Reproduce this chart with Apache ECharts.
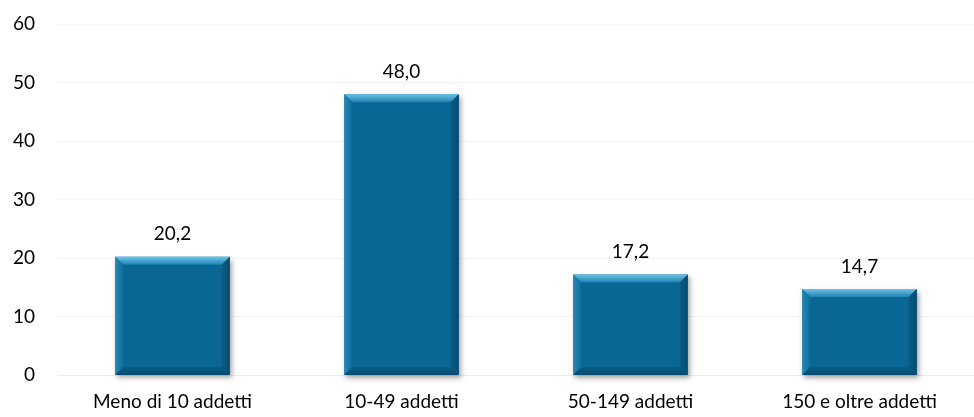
<!DOCTYPE html>
<html>
<head>
<meta charset="utf-8">
<script src="https://cdn.jsdelivr.net/npm/echarts@6/dist/echarts.min.js"></script>
<style>
  html, body { margin: 0; padding: 0; background: #ffffff; }
  #chart { width: 974px; height: 417px; }
</style>
</head>
<body>
<div id="chart"></div>
<script>
// Imprese per classe di addetti (valori percentuali)
const categories = ['Meno di 10 addetti', '10-49 addetti', '50-149 addetti', '150 e oltre addetti'];
const values = [20.2, 48.0, 17.2, 14.7];
const yTicks = [0, 10, 20, 30, 40, 50, 60];

const FONT = 'Lato, "Open Sans", sans-serif';
const FONT_SIZE = 19;
const BEVEL = 8;

function fmt(v) {
  return v.toFixed(1).replace('.', ',');
}

// Bevelled bar: flat face plus four sloped edges
function renderBevelBar(params, api) {
  const idx = api.value(0);
  const val = api.value(1);
  const top = api.coord([idx, val]);
  const base = api.coord([idx, 0]);
  const w = api.size([1, 0])[0] * 0.5;
  const x0 = top[0] - w / 2, x1 = top[0] + w / 2;
  const y0 = top[1], y1 = base[1];
  const b = Math.min(BEVEL, (y1 - y0) / 2);

  const face = '#0a6694';
  return {
    type: 'group',
    children: [
      {
        type: 'rect',
        shape: { x: x0, y: y0, width: x1 - x0, height: y1 - y0 },
        style: { fill: face, shadowBlur: 5, shadowOffsetX: 2, shadowOffsetY: 3, shadowColor: 'rgba(0,0,0,0.35)' }
      },
      {
        type: 'polygon',
        shape: { points: [[x0, y0], [x1, y0], [x1 - b, y0 + b], [x0 + b, y0 + b]] },
        style: { fill: new echarts.graphic.LinearGradient(0, 0, 0, 1, [
          { offset: 0, color: '#6cc4e8' }, { offset: 1, color: '#1f82b2' }]) }
      },
      {
        type: 'polygon',
        shape: { points: [[x0, y0], [x0 + b, y0 + b], [x0 + b, y1 - b], [x0, y1]] },
        style: { fill: new echarts.graphic.LinearGradient(0, 0, 1, 0, [
          { offset: 0, color: '#2a88b6' }, { offset: 1, color: '#0f6d9b' }]) }
      },
      {
        type: 'polygon',
        shape: { points: [[x1, y0], [x1, y1], [x1 - b, y1 - b], [x1 - b, y0 + b]] },
        style: { fill: new echarts.graphic.LinearGradient(0, 0, 1, 0, [
          { offset: 0, color: '#085c84' }, { offset: 1, color: '#064c70' }]) }
      },
      {
        type: 'polygon',
        shape: { points: [[x0, y1], [x0 + b, y1 - b], [x1 - b, y1 - b], [x1, y1]] },
        style: { fill: new echarts.graphic.LinearGradient(0, 0, 0, 1, [
          { offset: 0, color: '#085d86' }, { offset: 1, color: '#064c70' }]) }
      },
      {
        type: 'text',
        style: {
          text: fmt(val),
          x: top[0], y: y0 - 13,
          align: 'center', verticalAlign: 'bottom',
          fill: '#000000', font: FONT_SIZE + 'px ' + FONT
        }
      }
    ]
  };
}

const chart = echarts.init(document.getElementById('chart'), null, { renderer: 'canvas' });
chart.setOption({
  animation: false,
  backgroundColor: '#ffffff',
  grid: { left: 58, top: 24, width: 931, bottom: 42, containLabel: false },
  xAxis: {
    type: 'category',
    data: categories,
    axisLine: { show: true, lineStyle: { color: '#ececec', width: 1 } },
    axisTick: { show: false },
    axisLabel: { color: '#000', fontFamily: FONT, fontSize: FONT_SIZE, margin: 17 }
  },
  yAxis: {
    type: 'value',
    min: yTicks[0],
    max: yTicks[yTicks.length - 1],
    interval: yTicks[1] - yTicks[0],
    axisLine: { show: false },
    axisTick: { show: false },
    splitLine: { lineStyle: { color: '#f3f3f3', width: 1 } },
    axisLabel: { color: '#000', fontFamily: FONT, fontSize: FONT_SIZE, margin: 23 }
  },
  series: [{
    type: 'custom',
    renderItem: renderBevelBar,
    encode: { x: 0, y: 1 },
    data: values.map((v, i) => [i, v])
  }]
});
</script>
</body>
</html>
